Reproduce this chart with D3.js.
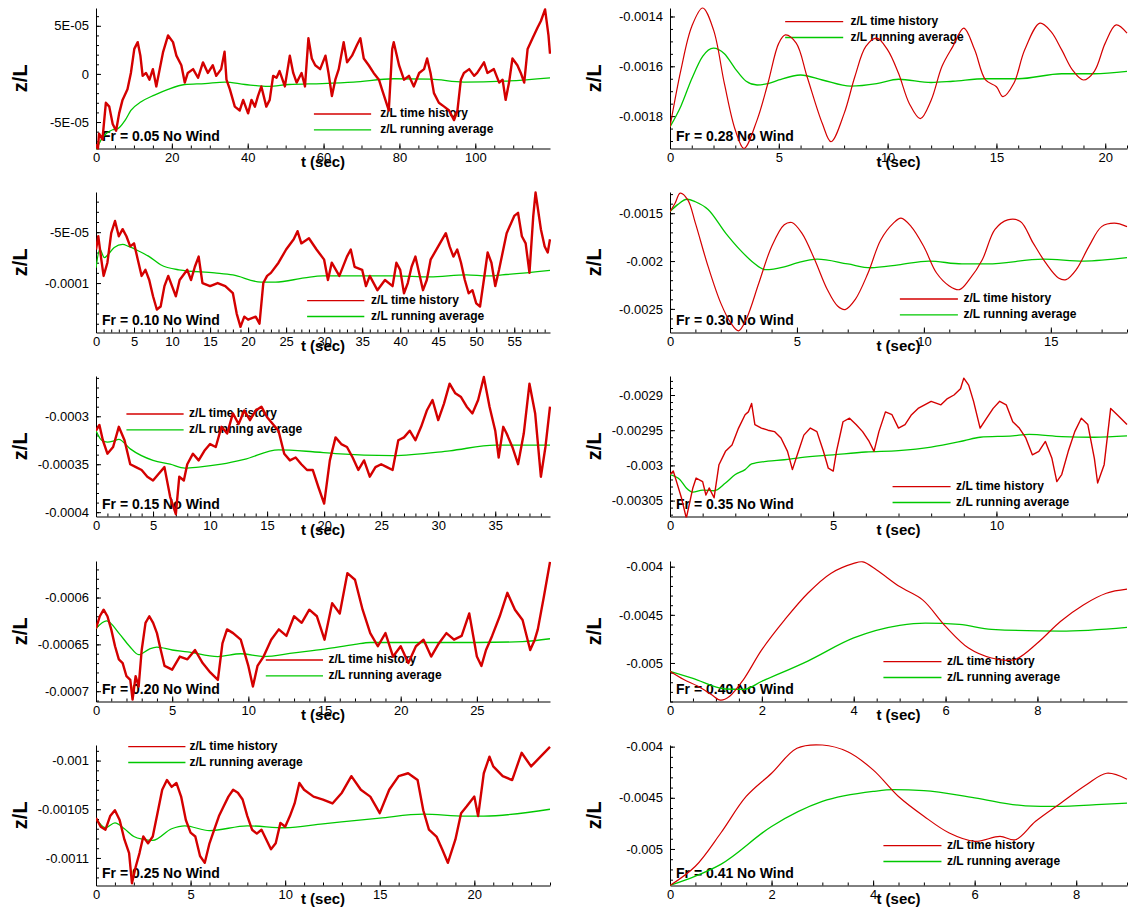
<!DOCTYPE html>
<html><head><meta charset="utf-8">
<script src="https://cdn.jsdelivr.net/npm/d3@7"></script>
<style>body{margin:0;background:#fff}svg{display:block}</style>
</head><body>
<svg id="c" width="1128" height="911"></svg>
<script>
// ---------------- DATA (y values in the panel's unit noted per panel) ----------------
const panelLabels = ["Fr = 0.05 No Wind","Fr = 0.10 No Wind","Fr = 0.15 No Wind","Fr = 0.20 No Wind","Fr = 0.25 No Wind",
                     "Fr = 0.28 No Wind","Fr = 0.30 No Wind","Fr = 0.35 No Wind","Fr = 0.40 No Wind","Fr = 0.41 No Wind"];
const legendLabels = ["z/L time history","z/L running average"];
const xTitle = "t (sec)";
const yTitle = "z/L";

// Fr 0.05 (unit 1e-5)
const fr05_red = [[0,-7.3],[0.5,-7.8],[0.8,-6.2],[1.7,-6.8],[2.6,-3.0],[3.5,-3.4],[4.4,-5.2],[5.3,-5.9],[6.1,-4.1],[7.0,-2.7],[8.3,-1.6],[9.2,0.1],[10.1,2.6],[11.0,3.3],[11.7,1.9],[12.3,-0.2],[13.2,0.1],[14.1,-0.6],[15.0,0.5],[15.9,-1.3],[16.8,0.5],[17.7,2.3],[19.0,4.0],[20.3,3.3],[21.2,1.9],[22.5,0.9],[23.4,-0.9],[24.2,0.1],[25.6,0.5],[26.9,-0.4],[28.2,1.2],[29.5,0.1],[30.8,0.9],[31.7,-0.2],[33.0,0.5],[33.9,2.3],[34.4,-0.6],[35.3,-1.6],[36.6,-3.4],[37.9,-3.8],[38.8,-2.7],[40.1,-4.1],[41.0,-2.7],[41.9,-3.4],[42.7,-2.3],[43.6,-1.3],[44.9,-3.4],[45.8,-2.7],[46.7,-0.2],[47.6,-0.4],[48.4,0.3],[49.8,-1.3],[51.1,1.9],[52.0,0.1],[52.9,-0.9],[54.2,0.1],[55.1,-1.3],[56.0,3.7],[56.9,1.6],[57.8,0.9],[59.1,0.5],[60.5,1.9],[61.3,0.1],[62.2,-2.3],[63.1,-0.6],[64.0,0.5],[65.3,3.3],[66.2,1.2],[67.5,1.9],[68.8,3.0],[69.7,3.7],[70.6,1.6],[71.9,0.9],[73.2,0.1],[74.6,-0.6],[75.4,-1.6],[76.3,-2.7],[77.2,-3.8],[78.1,2.6],[78.5,3.3],[79.9,0.9],[81.2,-0.6],[82.5,-0.2],[83.8,-1.3],[85.2,0.1],[86.5,0.5],[87.3,1.6],[88.2,0.1],[89.1,-2.0],[90.4,-3.0],[91.8,-3.4],[93.1,-3.8],[94.4,-4.8],[95.3,-3.8],[96.2,-0.6],[97.0,0.1],[98.4,0.5],[99.7,-0.2],[100.5,0.1],[102.3,1.2],[103.2,0.1],[104.9,0.5],[106.3,-0.9],[107.2,-0.6],[108.0,-2.7],[108.9,-0.9],[109.8,1.6],[111.1,0.9],[112.0,0.1],[112.9,-0.9],[113.8,2.6],[115.1,3.7],[116.4,4.8],[117.3,5.5],[118.4,6.7],[119.3,4.0],[119.7,2.1]];
const fr05_avg = [[0,-8.0],[1.4,-6.8],[2.7,-6.2],[4.4,-5.8],[5.7,-5.7],[7.7,-4.8],[9.2,-3.8],[11.9,-2.9],[15.4,-2.2],[19,-1.6],[23.4,-1.1],[28.7,-1.0],[34,-0.85],[39.3,-1.1],[45.5,-1.3],[50.8,-1.1],[59.6,-1.0],[67.9,-0.85],[78.5,-0.5],[88.2,-0.55],[97,-0.85],[107.6,-0.75],[119.7,-0.4]];

// Fr 0.10 (unit 1e-5)
const fr10_red = [[0,-6.7],[0.3,-5.4],[0.7,-7.7],[1,-9.3],[1.5,-8.0],[2,-5.1],[2.5,-3.9],[3,-5.4],[3.5,-4.7],[4,-5.4],[4.5,-6.4],[5,-6.1],[5.5,-7.7],[6,-9.3],[6.5,-8.7],[7,-9.7],[7.5,-11.3],[8,-12.6],[8.5,-12.3],[9,-10.3],[9.5,-9.3],[10,-10.3],[10.5,-11.3],[11,-9.7],[12,-8.7],[12.5,-9.7],[13,-8.4],[13.5,-7.4],[14,-10.0],[15,-10.3],[16,-10.0],[17,-10.3],[18,-11.0],[18.5,-13.0],[19,-14.3],[19.5,-13.3],[20,-13.6],[21,-13.3],[21.5,-14.0],[22,-10.0],[22.5,-9.3],[23,-9.0],[24,-8.0],[25,-6.7],[26,-5.7],[26.5,-4.9],[27,-6.1],[28,-5.6],[29,-6.7],[30,-7.7],[30.5,-9.7],[31,-8.0],[32,-9.3],[33,-7.4],[33.5,-6.7],[34,-8.4],[35,-8.7],[35.5,-10.3],[36,-9.3],[37,-10.7],[38,-9.7],[39,-10.3],[39.5,-8.0],[40,-8.7],[40.5,-11.0],[41,-10.0],[41.5,-8.4],[42,-7.4],[43,-10.7],[43.5,-9.7],[44,-7.7],[45,-6.4],[46,-5.1],[46.5,-6.4],[47,-7.4],[47.5,-6.7],[48,-8.0],[48.5,-9.7],[49,-11.0],[49.5,-10.7],[50,-12.0],[50.5,-12.3],[51,-9.7],[51.5,-7.0],[52,-8.0],[52.5,-10.3],[53,-8.7],[54,-5.1],[55,-3.4],[55.5,-3.1],[56,-5.4],[56.5,-6.1],[57,-9.0],[57.5,-3.4],[57.8,-1.1],[58.5,-4.7],[59,-6.4],[59.4,-7.0],[59.7,-5.7]];
const fr10_avg = [[0,-8.5],[0.5,-6.7],[1.1,-7.5],[1.7,-7.1],[2.4,-6.5],[3.5,-6.2],[4.3,-6.4],[5.2,-6.7],[7,-7.4],[8.5,-8.2],[10.9,-8.7],[15.6,-9.0],[18,-9.2],[21.7,-9.9],[23.6,-9.9],[27.4,-9.5],[29.8,-9.3],[34.5,-9.3],[39.2,-9.3],[43.9,-9.4],[48.7,-9.2],[51.5,-9.3],[53.4,-9.2],[59.7,-8.75]];

// Fr 0.15 (unit 1e-5)
const fr15_red = [[0,-31.5],[0.3,-30.9],[0.6,-32.5],[1,-33.9],[1.5,-33.2],[2,-31.1],[2.5,-32.5],[3,-35.0],[3.5,-35.3],[4,-35.6],[4.5,-36.3],[5,-36.7],[5.5,-36.0],[6,-35.3],[6.5,-38.4],[7,-40.2],[7.3,-36.3],[7.7,-36.7],[8,-35.0],[8.5,-33.9],[9,-34.6],[9.5,-33.6],[10,-32.9],[10.5,-33.2],[11,-31.1],[11.5,-31.8],[12,-29.7],[12.5,-30.8],[13,-29.4],[13.5,-30.4],[14,-29.4],[14.5,-29.0],[15,-30.1],[15.5,-30.8],[16,-31.5],[16.5,-33.9],[17,-34.6],[17.5,-34.3],[18,-35.0],[18.5,-35.6],[19,-35.6],[19.5,-37.4],[20,-39.1],[20.5,-34.6],[21,-32.2],[21.5,-32.9],[22,-33.2],[22.5,-34.3],[23,-35.6],[23.5,-34.6],[24,-36.3],[24.5,-35.3],[25,-35.0],[25.5,-35.3],[26,-35.6],[26.5,-32.5],[27,-32.2],[27.5,-31.5],[28,-32.5],[28.5,-31.1],[29,-29.4],[29.5,-28.3],[30,-30.4],[30.5,-28.7],[31,-26.6],[31.5,-27.6],[32,-28.0],[32.5,-29.0],[33,-29.7],[33.5,-28.3],[34,-25.9],[34.5,-29.0],[35,-31.5],[35.3,-34.3],[35.7,-31.1],[36,-31.8],[36.5,-33.2],[37,-35.0],[37.5,-31.8],[38,-26.6],[38.5,-29.7],[39,-36.3],[39.4,-33.2],[39.8,-29.0]];
const fr15_avg = [[0,-31.5],[0.5,-32.5],[1,-32.7],[1.5,-32.6],[2,-32.4],[3,-33.4],[5,-34.6],[6.5,-35.0],[7.8,-35.4],[9,-35.3],[11,-35.0],[13,-34.5],[16,-33.5],[19,-33.7],[21,-33.9],[26,-34.1],[31,-33.6],[35,-33.0],[39.8,-33.0]];

// Fr 0.20 (unit 1e-5)
const fr20_red = [[0,-63.3],[0.25,-62.0],[0.5,-61.3],[0.75,-62.0],[1,-63.4],[1.25,-65.2],[1.5,-66.6],[1.75,-67.0],[2,-68.4],[2.25,-68.8],[2.4,-70.9],[2.6,-68.4],[2.8,-69.5],[3,-65.6],[3.25,-62.7],[3.5,-62.0],[3.75,-62.7],[4,-63.8],[4.25,-65.6],[4.5,-67.3],[5,-67.7],[5.5,-66.3],[6,-66.6],[6.5,-65.6],[7,-67.0],[7.5,-68.0],[8,-68.8],[8.3,-64.9],[8.6,-63.4],[9,-63.8],[9.5,-64.5],[10,-67.3],[10.3,-69.5],[10.6,-67.3],[11,-66.3],[11.5,-64.5],[12,-63.4],[12.5,-64.1],[13,-62.0],[13.5,-62.7],[14,-61.3],[14.5,-62.0],[15,-64.5],[15.5,-60.6],[16,-61.7],[16.5,-57.4],[17,-58.1],[17.5,-61.3],[18,-63.8],[18.5,-65.2],[19,-63.8],[19.5,-66.3],[20,-65.2],[20.5,-67.0],[21,-65.2],[21.5,-64.5],[22,-66.3],[22.5,-64.9],[23,-63.8],[23.5,-64.5],[24,-64.1],[24.5,-61.7],[25,-66.3],[25.3,-67.3],[25.6,-65.6],[26,-64.1],[26.5,-62.0],[27,-59.5],[27.5,-61.3],[28,-62.4],[28.5,-65.6],[28.8,-64.5],[29,-63.4],[29.4,-59.9],[29.8,-56.2]];
const fr20_avg = [[0,-63.3],[0.7,-62.5],[1.5,-63.8],[2.2,-65.2],[2.8,-66.1],[3.5,-65.5],[4,-65.3],[5,-65.6],[6,-65.8],[8,-66.3],[9.5,-66.0],[11,-66.3],[13,-65.9],[15,-65.5],[17,-65.0],[18,-64.8],[20,-64.8],[25,-64.8],[28,-64.7],[29.8,-64.4]];

// Fr 0.25 (unit 1e-5)
const fr25_red = [[0,-105.9],[0.25,-106.8],[0.5,-107.1],[0.75,-105.7],[1,-105.1],[1.25,-106.1],[1.5,-108.1],[1.75,-109.5],[1.9,-112.6],[2.1,-110.9],[2.3,-109.5],[2.5,-107.8],[2.75,-108.5],[3,-107.8],[3.25,-105.4],[3.5,-103.0],[3.75,-102.0],[4,-102.7],[4.25,-102.3],[4.5,-103.7],[4.75,-106.1],[5,-107.4],[5.25,-107.8],[5.5,-109.8],[5.75,-110.5],[6,-108.5],[6.25,-107.1],[6.5,-105.7],[6.75,-104.7],[7,-103.7],[7.25,-103.0],[7.5,-103.3],[7.75,-104.0],[8,-105.7],[8.25,-107.1],[8.5,-107.5],[8.75,-107.1],[9,-108.1],[9.25,-109.1],[9.5,-108.5],[9.75,-106.4],[10,-106.8],[10.25,-105.7],[10.5,-104.4],[10.75,-102.3],[11,-103.0],[11.5,-103.7],[12,-104.0],[12.5,-104.4],[13,-103.3],[13.5,-101.6],[14,-103.0],[14.5,-103.7],[15,-105.4],[15.5,-103.0],[16,-101.6],[16.5,-101.3],[17,-102.0],[17.3,-105.1],[17.6,-107.1],[18,-107.8],[18.3,-109.1],[18.6,-110.5],[19,-108.1],[19.3,-105.4],[19.6,-104.7],[20,-103.7],[20.2,-105.7],[20.5,-101.3],[20.8,-99.6],[21,-100.6],[21.5,-101.6],[22,-102.0],[22.5,-99.2],[23,-100.6],[23.5,-99.6],[24,-98.6]];
const fr25_avg = [[0,-105.9],[0.5,-106.9],[1,-106.4],[1.5,-107.0],[2,-107.8],[2.5,-108.1],[3,-108.2],[4,-107.0],[4.7,-106.7],[6,-107.2],[8,-106.7],[10,-106.9],[12,-106.5],[15,-105.9],[17.3,-105.5],[19.5,-105.7],[20.5,-105.7],[24,-105.0]];

// Fr 0.28 (unit 1e-4)
const fr28_red = [[0,-18.43],[0.5,-16.15],[1,-14.4],[1.5,-13.66],[2,-14.54],[2.5,-16.7],[3,-18.56],[3.4,-19.3],[4,-18.16],[4.5,-16.68],[5,-15.07],[5.3,-14.74],[5.8,-15.07],[6.3,-16.42],[7,-18.3],[7.4,-19.03],[8,-17.9],[8.5,-16.4],[9,-15.2],[9.5,-14.87],[10,-15.34],[10.5,-16.28],[11,-17.5],[11.5,-18.1],[12,-17.36],[12.5,-16.0],[13,-15.2],[13.5,-14.47],[14,-15.34],[14.5,-16.55],[15,-16.82],[15.3,-17.22],[15.8,-16.68],[16.3,-15.34],[17,-14.27],[17.5,-14.6],[18,-15.34],[18.5,-16.15],[19,-16.55],[19.5,-16.2],[20,-15.07],[20.5,-14.34],[21,-14.67]];
const fr28_avg = [[0,-18.43],[0.5,-17.6],[1,-16.5],[1.5,-15.6],[2,-15.27],[2.5,-15.5],[3,-16.1],[3.5,-16.6],[4,-16.75],[4.5,-16.7],[5,-16.55],[6,-16.35],[7,-16.55],[8.3,-16.8],[9.5,-16.7],[10.5,-16.52],[12,-16.65],[13,-16.6],[14.5,-16.5],[16,-16.5],[18,-16.3],[19.5,-16.3],[21,-16.2]];

// Fr 0.30 (unit 1e-4)
const fr30_red = [[0,-14.83],[0.2,-13.96],[0.4,-12.9],[0.7,-13.6],[1,-16.04],[1.5,-20.56],[2,-24.4],[2.4,-26.5],[2.7,-27.3],[3,-26.1],[3.5,-22.3],[4,-18.5],[4.5,-16.2],[4.8,-15.97],[5.2,-17.1],[5.7,-19.86],[6.2,-23.0],[6.6,-24.7],[6.9,-25.07],[7.3,-24.0],[7.8,-21.25],[8.3,-17.8],[8.8,-16.04],[9.1,-15.52],[9.5,-16.4],[10,-18.5],[10.5,-21.25],[11,-22.6],[11.4,-22.99],[11.8,-21.9],[12.3,-19.86],[12.8,-16.7],[13.3,-15.7],[13.8,-15.86],[14.3,-18.1],[14.8,-20.2],[15.3,-21.77],[15.6,-21.94],[16,-20.9],[16.5,-18.47],[17,-16.4],[17.5,-16.04],[18,-16.4]];
const fr30_avg = [[0,-14.83],[0.3,-14.1],[0.67,-13.54],[1,-13.8],[1.5,-14.6],[2.2,-17.1],[2.75,-18.8],[3.3,-20.2],[3.75,-20.9],[4.5,-20.6],[5,-20.2],[5.8,-19.8],[7,-20.3],[7.9,-20.7],[9,-20.4],[10.2,-20.0],[11.5,-20.3],[12.5,-20.3],[14.7,-19.8],[16.3,-20.0],[18,-19.65]];

// Fr 0.35 (unit 1e-5)
const fr35_red = [[0,-301.3],[0.1,-300.8],[0.2,-302.3],[0.35,-304.6],[0.5,-307.5],[0.7,-303.2],[0.8,-301.8],[1.0,-302.3],[1.1,-304.2],[1.2,-303.2],[1.35,-304.6],[1.5,-299.9],[1.7,-298.0],[1.9,-297.1],[2.1,-294.7],[2.3,-292.8],[2.4,-292.4],[2.5,-291.2],[2.6,-294.2],[2.8,-294.7],[3,-295.0],[3.2,-295.2],[3.4,-296.1],[3.6,-298.0],[3.75,-300.6],[3.9,-298.5],[4.1,-295.7],[4.3,-294.7],[4.5,-295.2],[4.7,-298.0],[4.85,-300.4],[5,-300.8],[5.1,-298.0],[5.3,-293.8],[5.5,-293.3],[5.7,-294.2],[5.9,-295.2],[6.1,-296.6],[6.25,-298.0],[6.4,-295.2],[6.6,-292.4],[6.8,-292.8],[7,-294.7],[7.2,-294.2],[7.4,-292.8],[7.6,-291.9],[7.8,-291.4],[8,-290.9],[8.3,-291.4],[8.5,-290.5],[8.7,-290.0],[8.9,-289.1],[9.0,-287.6],[9.15,-288.6],[9.3,-290.9],[9.5,-294.7],[9.7,-293.3],[9.9,-291.9],[10.1,-290.9],[10.3,-291.4],[10.5,-293.8],[10.7,-294.7],[10.9,-296.1],[11.1,-298.5],[11.3,-298.0],[11.5,-296.6],[11.7,-299.0],[11.85,-302.3],[12.0,-301.3],[12.2,-298.0],[12.4,-295.2],[12.6,-293.3],[12.8,-294.2],[13,-299.0],[13.1,-302.5],[13.3,-299.9],[13.5,-291.9],[13.7,-292.8],[14,-294.2]];
const fr35_avg = [[0,-301.3],[0.3,-302.0],[0.5,-303.2],[0.7,-303.8],[1,-303.5],[1.35,-303.6],[1.7,-302.5],[2,-301.3],[2.3,-300.6],[2.5,-299.8],[3,-299.4],[3.5,-299.2],[4,-298.9],[5,-298.5],[6,-298.1],[7,-297.9],[8,-297.4],[9,-296.5],[9.5,-296.0],[10.5,-295.8],[11,-295.6],[12,-295.9],[13,-296.0],[14,-295.8]];

// Fr 0.40 (unit 1e-4)
const fr40_red = [[0,-50.86],[0.3,-51.72],[0.6,-52.4],[0.9,-53.28],[1.1,-53.86],[1.3,-53.45],[1.6,-51.72],[2,-48.62],[2.5,-45.5],[3,-42.76],[3.5,-40.7],[4,-39.66],[4.2,-39.5],[4.5,-40.34],[5,-42.07],[5.5,-43.45],[6,-46.2],[6.5,-48.45],[7,-49.48],[7.5,-49.66],[8,-47.93],[8.5,-45.69],[9,-43.97],[9.5,-42.76],[9.95,-42.34]];
const fr40_avg = [[0,-50.86],[0.5,-51.6],[1.2,-52.7],[1.6,-52.75],[2,-51.9],[3,-49.8],[4,-47.4],[5,-46.1],[5.56,-45.86],[6.3,-46.0],[7,-46.5],[8.5,-46.7],[9.95,-46.3]];

// Fr 0.41 (unit 1e-4)
const fr41_red = [[0,-53.57],[0.5,-51.69],[1,-48.44],[1.5,-44.87],[2,-42.6],[2.5,-40.16],[3,-39.84],[3.5,-40.5],[4,-42.27],[4.5,-44.87],[5,-46.8],[5.5,-48.44],[6,-49.25],[6.5,-48.77],[6.8,-49.1],[7.2,-47.3],[7.7,-45.5],[8.2,-43.73],[8.6,-42.6],[9,-43.18]];
const fr41_avg = [[0,-53.57],[0.5,-52.66],[1,-51.5],[2,-47.8],[3,-45.36],[4,-44.38],[4.4,-44.2],[5,-44.3],[6,-45.0],[7,-45.78],[7.6,-45.84],[8.5,-45.65],[9,-45.52]];

const redSeries = [fr05_red, fr10_red, fr15_red, fr20_red, fr25_red, fr28_red, fr30_red, fr35_red, fr40_red, fr41_red];
const avgSeries = [fr05_avg, fr10_avg, fr15_avg, fr20_avg, fr25_avg, fr28_avg, fr30_avg, fr35_avg, fr40_avg, fr41_avg];

// axis ranges (x in s, y in panel unit)
const xMax = [119.7, 59.7, 39.8, 29.8, 24, 21, 18, 14, 9.95, 9];
const yMin = [-7.75, -14.86, -40.45, -71.1, -112.83, -19.3, -27.47, -307.26, -54.0, -53.57];
const yMax = [6.85, -1.05, -25.8, -56.1, -98.4, -13.66, -12.78, -287.3, -39.41, -39.84];
const xMajorStep = [20, 5, 5, 5, 5, 5, 5, 5, 2, 2];
const xMinorStep = [5, 1, 1, 1, 1, 1, 1, 1, 0.5, 0.5];
const yTickValues = [[5,0,-5],[-5,-10],[-30,-35,-40],[-60,-65,-70],[-100,-105,-110],[-14,-16,-18],[-15,-20,-25],[-290,-295,-300,-305],[-40,-45,-50],[-40,-45,-50]];
const yTickLabels = [["5E-05","0","-5E-05"],["-5E-05","-0.0001"],["-0.0003","-0.00035","-0.0004"],["-0.0006","-0.00065","-0.0007"],["-0.001","-0.00105","-0.0011"],["-0.0014","-0.0016","-0.0018"],["-0.0015","-0.002","-0.0025"],["-0.0029","-0.00295","-0.003","-0.00305"],["-0.004","-0.0045","-0.005"],["-0.004","-0.0045","-0.005"]];
const yMinorStep = [1, 1, 1, 1, 1, 0.5, 1, 1, 1, 1];

// ---------------- LAYOUT ----------------
const colLeft = [96, 670], colWidth = [454, 457];
const rowTop = [8, 192, 376, 561, 745], plotH = 140.5;
const legX1 = [0.48,0.465,0.067,0.374,0.071, 0.252,0.503,0.487,0.467,0.467];
const legX2 = [0.606,0.591,0.193,0.5,0.197, 0.379,0.63,0.614,0.594,0.594];
const legTx = [0.626,0.606,0.205,0.512,0.206, 0.395,0.642,0.626,0.606,0.606];
const legY  = [106,108.7,38,99,1.7, 13.7,107,110.7,100.7,100.7];
const RED = "#d40000", GREEN = "#00c800";
const FONT = "'Liberation Sans', Arial, Helvetica, sans-serif";

const svg = d3.select("#c");
const eps = 1e-9;

for (let i = 0; i < 10; i++) {
  const col = i < 5 ? 0 : 1, row = i % 5;
  const L = colLeft[col], W = colWidth[col], T = rowTop[row], H = plotH;
  const x = d3.scaleLinear().domain([0, xMax[i]]).range([0, W]);
  const y = d3.scaleLinear().domain([yMin[i], yMax[i]]).range([H, 0]);
  const g = svg.append("g").attr("transform", `translate(${L},${T})`);

  g.append("clipPath").attr("id", "clip" + i).append("rect")
    .attr("x", 0).attr("y", -1).attr("width", W + 1).attr("height", H + 2);

  // minor ticks
  const xMinor = d3.range(0, xMax[i] + eps, xMinorStep[i]);
  g.append("g").attr("transform", `translate(0,${H})`)
    .call(d3.axisBottom(x).tickValues(xMinor).tickSize(-3).tickSizeOuter(0).tickFormat(""))
    .call(a => a.select(".domain").remove());
  const yLo = Math.ceil(yMin[i] / yMinorStep[i]) * yMinorStep[i];
  const yMinor = d3.range(yLo, yMax[i] + eps, yMinorStep[i]);
  g.append("g")
    .call(d3.axisLeft(y).tickValues(yMinor).tickSize(-3).tickSizeOuter(0).tickFormat(""))
    .call(a => a.select(".domain").remove());

  // major axes
  const xMaj = d3.range(0, xMax[i] + eps, xMajorStep[i]);
  const xa = g.append("g").attr("transform", `translate(0,${H})`)
    .call(d3.axisBottom(x).tickValues(xMaj).tickSize(-5).tickSizeOuter(0).tickPadding(4).tickFormat(d3.format("d")));
  const labs = yTickLabels[i];
  const vals = yTickValues[i];
  const ya = g.append("g")
    .call(d3.axisLeft(y).tickValues(vals).tickSize(-5).tickSizeOuter(0).tickPadding(7)
      .tickFormat((d, k) => labs[k]));
  [xa, ya].forEach(a => {
    a.selectAll("text").attr("font-family", FONT).attr("font-size", 13).attr("fill", "#000");
    a.select(".domain").attr("stroke", "#000").attr("stroke-width", 1);
  });
  g.selectAll(".tick line").attr("stroke", "#000");

  // titles
  g.append("text").attr("x", -74).attr("y", H / 2)
    .attr("transform", `rotate(-90,-74,${H / 2})`)
    .attr("text-anchor", "middle").attr("dominant-baseline", "middle")
    .attr("font-family", FONT).attr("font-weight", "bold").attr("font-size", 20).text(yTitle);
  g.append("text").attr("x", W / 2).attr("y", H + 15)
    .attr("text-anchor", "middle").attr("dominant-baseline", "middle")
    .attr("font-family", FONT).attr("font-weight", "bold").attr("font-size", 15).text(xTitle);

  // panel label
  g.append("text").attr("x", 6).attr("y", H - 11)
    .attr("dominant-baseline", "middle")
    .attr("font-family", FONT).attr("font-weight", "bold").attr("font-size", 14).text(panelLabels[i]);

  // legend
  [RED, GREEN].forEach((c, k) => {
    const yy = legY[i] + k * 15.8;
    g.append("line").attr("x1", legX1[i] * W).attr("x2", legX2[i] * W).attr("y1", yy).attr("y2", yy)
      .attr("stroke", c).attr("stroke-width", 1.3);
    g.append("text").attr("x", legTx[i] * W).attr("y", yy).attr("dominant-baseline", "middle")
      .attr("font-family", FONT).attr("font-weight", "bold").attr("font-size", 12).text(legendLabels[k]);
  });

  // data
  const noisy = (i < 5 || i === 7);
  const lineRed = d3.line().x(d => x(d[0])).y(d => y(d[1]))
    .curve(noisy ? d3.curveLinear : d3.curveCatmullRom);
  const lineAvg = d3.line().x(d => x(d[0])).y(d => y(d[1])).curve(d3.curveMonotoneX);
  const dg = g.append("g").attr("clip-path", `url(#clip${i})`);
  dg.append("path").datum(avgSeries[i]).attr("d", lineAvg)
    .attr("fill", "none").attr("stroke", GREEN).attr("stroke-width", 1.3);
  dg.append("path").datum(redSeries[i]).attr("d", lineRed)
    .attr("fill", "none").attr("stroke", RED).attr("stroke-width", i < 5 ? 2.4 : (i === 7 ? 1.4 : 1.2))
    .attr("stroke-linejoin", "round");
}
</script>
</body></html>
